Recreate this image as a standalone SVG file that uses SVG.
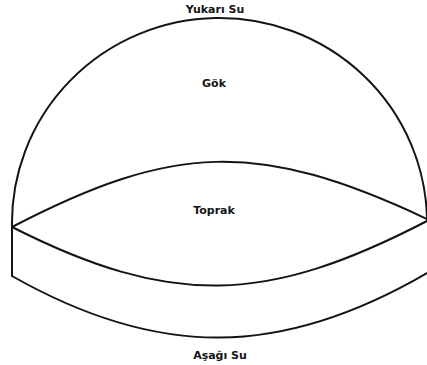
<svg xmlns="http://www.w3.org/2000/svg" width="427" height="365" viewBox="0 0 427 365">
<style>
.ln{fill:none;stroke:#141414;stroke-width:2;stroke-linecap:round;stroke-linejoin:round}
.lb{font-family:"DejaVu Sans","Liberation Sans",sans-serif;font-weight:bold;font-size:11px;fill:#141414;text-anchor:middle}
</style>
<rect width="427" height="365" fill="#fff"/>
<g id="shapes">
<path id="dome" class="ln" d="M12,227 A207.5,205 0 0 1 427,219"/>
<path id="lens-top" class="ln" d="M12,227 C172,144 257,139 427,219"/>
<path id="lens-bottom" class="ln" d="M12,227 C172,308 267,304 427,221"/>
<path id="side" class="ln" d="M12,227 L12,276"/>
<path id="base" class="ln" d="M12,276 C158,359 281,358 427,273"/>
</g>
<g id="labels">
<text id="yukari" class="lb" x="215" y="13">Yukarı Su</text>
<text id="gok" class="lb" x="214" y="87">Gök</text>
<text id="toprak" class="lb" x="214" y="214">Toprak</text>
<text id="asagi" class="lb" x="220" y="359">Aşağı Su</text>
</g>
</svg>
